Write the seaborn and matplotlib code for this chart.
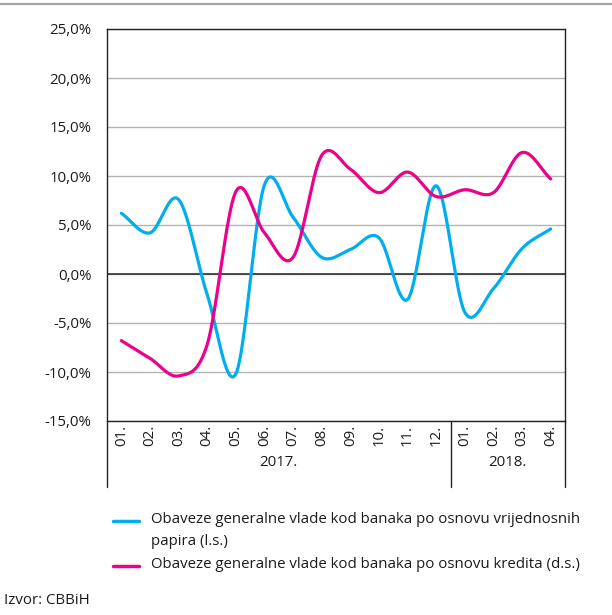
import numpy as np
import pandas as pd
import matplotlib
matplotlib.use("Agg")
import matplotlib.pyplot as plt
import seaborn as sns
from matplotlib.lines import Line2D

# ---- data ----
months = ["01.", "02.", "03.", "04.", "05.", "06.", "07.", "08.", "09.", "10.",
          "11.", "12.", "01.", "02.", "03.", "04."]
years = ["2017.", "2018."]
year_counts = [12, 4]
vrijednosni = [6.2, 4.2, 7.6, -2.1, -10.2, 9.1, 5.8, 1.7, 2.5, 3.7, -2.6, 9.0,
               -3.9, -1.5, 2.6, 4.6]
krediti = [-6.8, -8.6, -10.4, -7.2, 8.4, 4.2, 1.7, 12.1, 10.7, 8.3, 10.4, 7.9,
           8.6, 8.3, 12.4, 9.7]
series_names = ["Obaveze generalne vlade kod banaka po osnovu vrijednosnih\npapira (l.s.)",
                "Obaveze generalne vlade kod banaka po osnovu kredita (d.s.)"]
yticks = [-15, -10, -5, 0, 5, 10, 15, 20, 25]
ytick_labels = ["-15,0%", "-10,0%", "-5,0%", "0,0%", "5,0%", "10,0%", "15,0%", "20,0%", "25,0%"]
source = "Izvor: CBBiH"

colors = ["#00AEEF", "#EC008C"]


def smooth(vals, n=40):
    y = np.asarray(vals, float)
    p = np.concatenate([[2 * y[0] - y[1]], y, [2 * y[-1] - y[-2]]])
    xs, ys = [], []
    t = np.linspace(0, 1, n, endpoint=False)
    h00 = 2 * t**3 - 3 * t**2 + 1
    h10 = t**3 - 2 * t**2 + t
    h01 = -2 * t**3 + 3 * t**2
    h11 = t**3 - t**2
    for i in range(len(y) - 1):
        p0, p1, p2, p3 = p[i], p[i + 1], p[i + 2], p[i + 3]
        m1 = (p2 - p0) / 2
        m2 = (p3 - p1) / 2
        xs.append(i + t)
        ys.append(h00 * p1 + h10 * m1 + h01 * p2 + h11 * m2)
    xs.append([len(y) - 1])
    ys.append([y[-1]])
    return np.concatenate(xs), np.concatenate(ys)


frames = []
for name, vals in zip(series_names, [vrijednosni, krediti]):
    xs, ys = smooth(vals)
    frames.append(pd.DataFrame({"x": xs, "v": ys, "s": name}))
df = pd.concat(frames, ignore_index=True)

sns.set_style("white")
plt.rcParams["font.family"] = ["Open Sans", "DejaVu Sans"]
FS = 10.8

fig = plt.figure(figsize=(6.12, 6.15), dpi=100)
W, H = 612, 615
ax = fig.add_axes([107 / W, 1 - 421 / H, 458 / W, 392 / H])

ax.set_ylim(-15, 25)
ax.set_xlim(-0.5, len(months) - 0.5)
ax.set_yticks(yticks)
ax.set_yticklabels(ytick_labels, fontsize=FS, color="#1a1a1a")
ax.yaxis.grid(True, color="#b3b3b3", lw=1.0)
ax.set_axisbelow(True)
ax.axhline(0, color="#222222", lw=1.1, zorder=1)

sns.lineplot(data=df, x="x", y="v", hue="s", palette=colors, legend=False,
             sort=False, estimator=None, lw=2.3, ax=ax, zorder=3)

ax.set_xticks(range(len(months)))
ax.set_xticklabels(months, rotation=90, fontsize=FS, color="#1a1a1a")
ax.tick_params(axis="x", length=0, pad=3)
ax.tick_params(axis="y", length=3, direction="in", pad=11, color="#333333")
ax.set_xlabel("")
ax.set_ylabel("")
for sp in ax.spines.values():
    sp.set_color("#222222")
    sp.set_linewidth(1.0)

# year grouping below the axis
tr = ax.get_xaxis_transform()
bounds = np.concatenate([[0], np.cumsum(year_counts)]) - 0.5
for b in bounds:
    ax.add_line(Line2D([b, b], [0, -66 / 392], transform=tr, color="#222222",
                       lw=1.0, clip_on=False))
for i, yr in enumerate(years):
    ax.text((bounds[i] + bounds[i + 1]) / 2, -42 / 392, yr, transform=tr,
            ha="center", va="center", fontsize=FS, color="#1a1a1a")

# top rule
fig.add_artist(Line2D([0, 1], [1 - 4 / H, 1 - 4 / H], color="#a6a6a6", lw=1.6))

# legend (manual, handle aligned with first text line)
leg_rows = [521, 566]
for name, c, yy in zip(series_names, colors, leg_rows):
    fig.add_artist(Line2D([113 / W, 139 / W], [1 - yy / H, 1 - yy / H], color=c, lw=2.5))
    fig.text(151 / W, 1 - (yy - 9) / H, name, ha="left", va="top", fontsize=FS,
             color="#1a1a1a", linespacing=1.6)

fig.text(4 / W, 1 - 601 / H, source, ha="left", va="center", fontsize=FS, color="#1a1a1a")

fig.savefig("out.png", dpi=100)
